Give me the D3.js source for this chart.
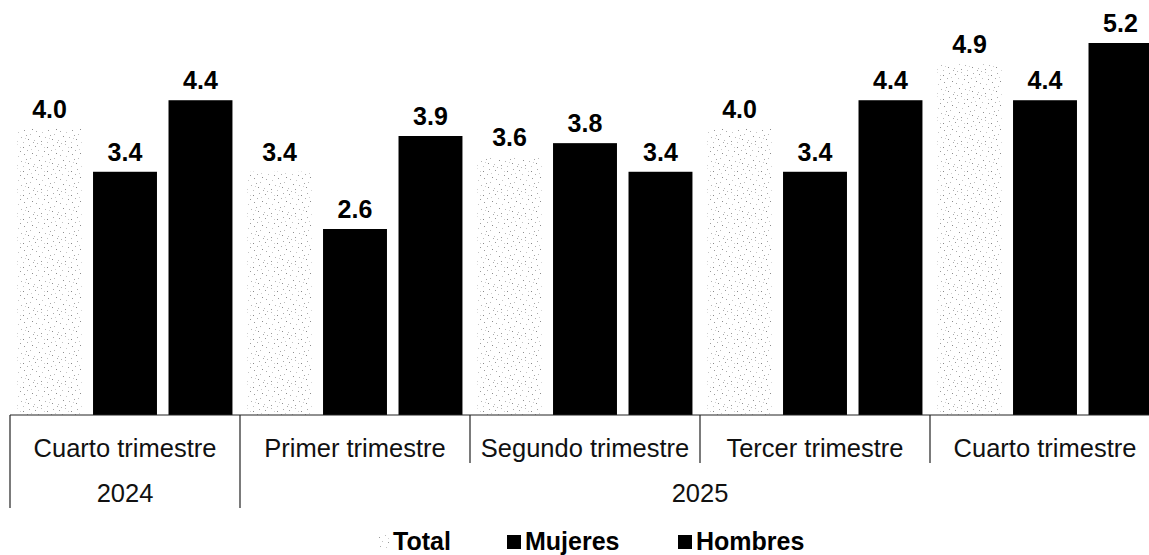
<!DOCTYPE html>
<meta charset="utf-8">
<style>
body { margin: 0; background: #fff; }
svg { display: block; font-family: "Liberation Sans", Arial, sans-serif; }
.val { font-size: 25px; font-weight: bold; text-anchor: middle; fill: #000; }
.cat { font-size: 25.5px; text-anchor: middle; fill: #111; }
.leg { font-size: 25px; font-weight: bold; fill: #000; }
</style>
<body>
<div id="plotHere"></div>
<script src="https://cdn.jsdelivr.net/npm/d3@7"></script>
<script>
//------------------------ DATA ------------------------//
const categories = ["Cuarto trimestre", "Primer trimestre", "Segundo trimestre", "Tercer trimestre", "Cuarto trimestre "];
const catLabels = ["Cuarto trimestre", "Primer trimestre", "Segundo trimestre", "Tercer trimestre", "Cuarto trimestre"];
const series = ["Total", "Mujeres", "Hombres"];
const total   = [4.0, 3.4, 3.6, 4.0, 4.9];
const mujeres = [3.4, 2.6, 3.8, 3.4, 4.4];
const hombres = [4.4, 3.9, 3.4, 4.4, 5.2];
const years = [{label: "2024", from: 0, to: 0}, {label: "2025", from: 1, to: 4}];

const values = [total, mujeres, hombres];

//------------------------ SVG -------------------------//
const width = 1149, height = 555;
const base = 415;

const svg = d3.select("#plotHere").append("svg")
    .attr("width", width)
    .attr("height", height);

// speckled fill for the Total series (hand placed dots in a 24px tile)
const defs = svg.append("defs");
const pat = defs.append("pattern")
    .attr("id", "speckle")
    .attr("patternUnits", "userSpaceOnUse")
    .attr("width", 24).attr("height", 24);
pat.append("rect").attr("width", 24).attr("height", 24).attr("fill", "#fff");
[[1,2,"#999"],[7,0,"#bbb"],[13,3,"#888"],[19,1,"#aaa"],[4,6,"#c2c2c2"],[10,7,"#999"],
 [17,6,"#b0b0b0"],[22,9,"#8c8c8c"],[2,11,"#aaa"],[8,12,"#c8c8c8"],[14,10,"#9a9a9a"],
 [20,14,"#bbb"],[5,16,"#909090"],[11,17,"#b5b5b5"],[16,15,"#a5a5a5"],[0,20,"#bdbdbd"],
 [7,21,"#999"],[13,22,"#c0c0c0"],[18,19,"#8f8f8f"],[23,22,"#aaa"],[3,23,"#b8b8b8"],
 [10,3,"#d0d0d0"],[15,18,"#d0d0d0"],[21,5,"#cfcfcf"]]
  .forEach(function(d) {
    pat.append("rect").attr("x", d[0]).attr("y", d[1])
       .attr("width", 1).attr("height", 1).attr("fill", d[2]);
  });

const fills = ["url(#speckle)", "#000", "#000"];

//----------------------- SCALES -----------------------//
const x0 = d3.scaleBand().domain(categories).range([10, 1160]).padding(0);
const x1 = d3.scaleBand().domain(series).range([0, x0.bandwidth()])
    .paddingInner(0.153).paddingOuter(0.1);
const y = d3.scaleLinear().domain([0, 5.2]).range([base, 43]);

//------------------------ BARS ------------------------//
const groups = svg.selectAll("g.grp")
    .data(categories)
  .enter().append("g")
    .attr("class", "grp")
    .attr("transform", function(d) { return "translate(" + x0(d) + ",0)"; });

groups.each(function(c, i) {
  const g = d3.select(this);
  const rows = series.map(function(s, j) { return {s: s, j: j, v: values[j][i]}; });
  g.selectAll("rect").data(rows).enter().append("rect")
      .attr("x", function(d) { return x1(d.s); })
      .attr("y", function(d) { return y(d.v); })
      .attr("width", x1.bandwidth())
      .attr("height", function(d) { return base - y(d.v); })
      .attr("fill", function(d) { return fills[d.j]; });
  g.selectAll("text").data(rows).enter().append("text")
      .attr("class", "val")
      .attr("x", function(d) { return x1(d.s) + x1.bandwidth() / 2; })
      .attr("y", function(d) { return y(d.v) - 11; })
      .text(function(d) { return d.v.toFixed(1); });
});

//------------------------ AXIS ------------------------//
svg.append("line")
    .attr("x1", 10).attr("x2", width)
    .attr("y1", base).attr("y2", base)
    .attr("stroke", "#222").attr("stroke-width", 1.2);

// category labels
svg.selectAll("text.cat")
    .data(categories)
  .enter().append("text")
    .attr("class", "cat")
    .attr("x", function(d) { return x0(d) + x0.bandwidth() / 2; })
    .attr("y", 457)
    .text(function(d, i) { return catLabels[i]; });

// dividers: year boundaries are long, the rest short
const yearStarts = years.map(function(yr) { return yr.from; });
svg.selectAll("line.div")
    .data(categories)
  .enter().append("line")
    .attr("class", "div")
    .attr("x1", function(d) { return x0(d); })
    .attr("x2", function(d) { return x0(d); })
    .attr("y1", base)
    .attr("y2", function(d, i) { return yearStarts.indexOf(i) >= 0 ? 508 : 463; })
    .attr("stroke", "#222").attr("stroke-width", 1.2);

// year labels
svg.selectAll("text.year")
    .data(years)
  .enter().append("text")
    .attr("class", "cat")
    .attr("x", function(d) {
      const a = x0(categories[d.from]);
      const b = x0(categories[d.to]) + x0.bandwidth();
      return (a + b) / 2;
    })
    .attr("y", 502)
    .text(function(d) { return d.label; });

//----------------------- LEGEND -----------------------//
const legX = [378, 507, 678];
const leg = svg.selectAll("g.leg")
    .data(series)
  .enter().append("g")
    .attr("transform", function(d, i) { return "translate(" + legX[i] + ",535)"; });
leg.append("rect")
    .attr("width", function(d, i) { return i === 0 ? 11 : 14; })
    .attr("height", 14)
    .attr("fill", function(d, i) { return fills[i]; });
leg.append("text")
    .attr("class", "leg")
    .attr("x", function(d, i) { return i === 0 ? 15 : 18; })
    .attr("y", 15)
    .text(function(d) { return d; });
</script>
</body>
